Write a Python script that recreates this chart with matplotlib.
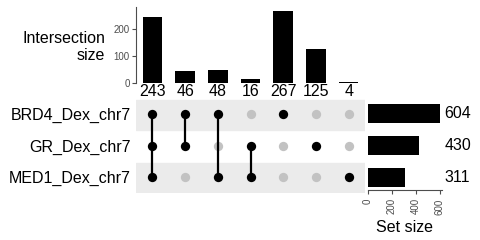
import numpy as np
from matplotlib import pyplot as plt
import matplotlib.transforms as mtransforms

plt.rcParams['font.family'] = ['Liberation Sans', 'DejaVu Sans']

sets = ['MED1_Dex_chr7', 'GR_Dex_chr7', 'BRD4_Dex_chr7']   # bottom to top
set_sizes = [311, 430, 604]
inter_sizes = [243, 46, 48, 16, 267, 125, 4]
# membership per intersection, in order of sets above (MED1, GR, BRD4)
members = [
    [1, 1, 1],
    [0, 1, 1],
    [1, 0, 1],
    [1, 1, 0],
    [0, 0, 1],
    [0, 1, 0],
    [1, 0, 0],
]

W, H = 480, 240
fig = plt.figure(figsize=(4.8, 2.4), dpi=100)

def px_axes(x0, y0, x1, y1):
    return fig.add_axes([x0 / W, 1 - y1 / H, (x1 - x0) / W, (y1 - y0) / H])

tick_col = '#4d4d4d'
big = 11.5
small = 7
n = len(inter_sizes)
xs = np.arange(n)

# intersection bars
ax_top = px_axes(136, 7, 365, 83)
ax_top.bar(xs, inter_sizes, width=0.6, color='black')
ax_top.set_xlim(-0.5, n - 0.5)
ax_top.set_ylim(0, 280)
ax_top.set_yticks([0, 100, 200])
ax_top.tick_params(axis='y', labelsize=small, colors=tick_col, length=3, width=0.8, pad=1.5)
ax_top.set_xticks([])
for s in ['top', 'right', 'bottom']:
    ax_top.spines[s].set_visible(False)
ax_top.spines['left'].set_color(tick_col)
for i, v in enumerate(inter_sizes):
    ax_top.text(i, -3, str(v), ha='center', va='top', fontsize=big, clip_on=False)
fig.text(105 / W, 1 - 47 / H, 'Intersection\nsize', ha='right', va='center',
         multialignment='right', fontsize=big, linespacing=1.1)

# matrix
ax_m = px_axes(136, 98, 365, 193)
ax_m.set_xlim(-0.5, n - 0.5)
ax_m.set_ylim(-0.5, 2.5)
for r in [0, 2]:
    ax_m.axhspan(r - 0.5, r + 0.45, color='#ebebeb', zorder=0)
for i, m in enumerate(members):
    on = [r for r in range(3) if m[r]]
    off = [r for r in range(3) if not m[r]]
    ax_m.scatter([i] * len(off), off, s=45, color='#c2c2c2', zorder=2, linewidths=0)
    if len(on) > 1:
        ax_m.plot([i, i], [min(on), max(on)], color='black', lw=1.6, zorder=3)
    ax_m.scatter([i] * len(on), on, s=45, color='black', zorder=4, linewidths=0)
ax_m.set_xticks([])
ax_m.set_yticks(range(3))
ax_m.set_yticklabels(sets, fontsize=big)
ax_m.tick_params(axis='y', length=0, pad=4)
for s in ax_m.spines.values():
    s.set_visible(False)

# set size bars
ax_s = px_axes(368, 98, 442, 190)
ax_s.barh(range(3), set_sizes, height=0.6, color='black')
ax_s.set_ylim(-0.5 + 3 / 31.7, 2.5)
ax_s.set_xlim(0, 620)
ax_s.set_xticks([0, 200, 400, 600])
ax_s.tick_params(axis='x', labelsize=small, colors=tick_col, rotation=90, length=3, width=0.8, pad=3)
ax_s.set_yticks([])
for s in ['top', 'right', 'left']:
    ax_s.spines[s].set_visible(False)
ax_s.spines['bottom'].set_color(tick_col)
tr = mtransforms.blended_transform_factory(ax_s.transAxes, ax_s.transData)
for r, v in enumerate(set_sizes):
    ax_s.text(1.03, r, str(v), transform=tr, ha='left', va='center', fontsize=big)
ax_s.set_xlabel('Set size', fontsize=big, labelpad=4)

fig.savefig('out.png', dpi=100)
